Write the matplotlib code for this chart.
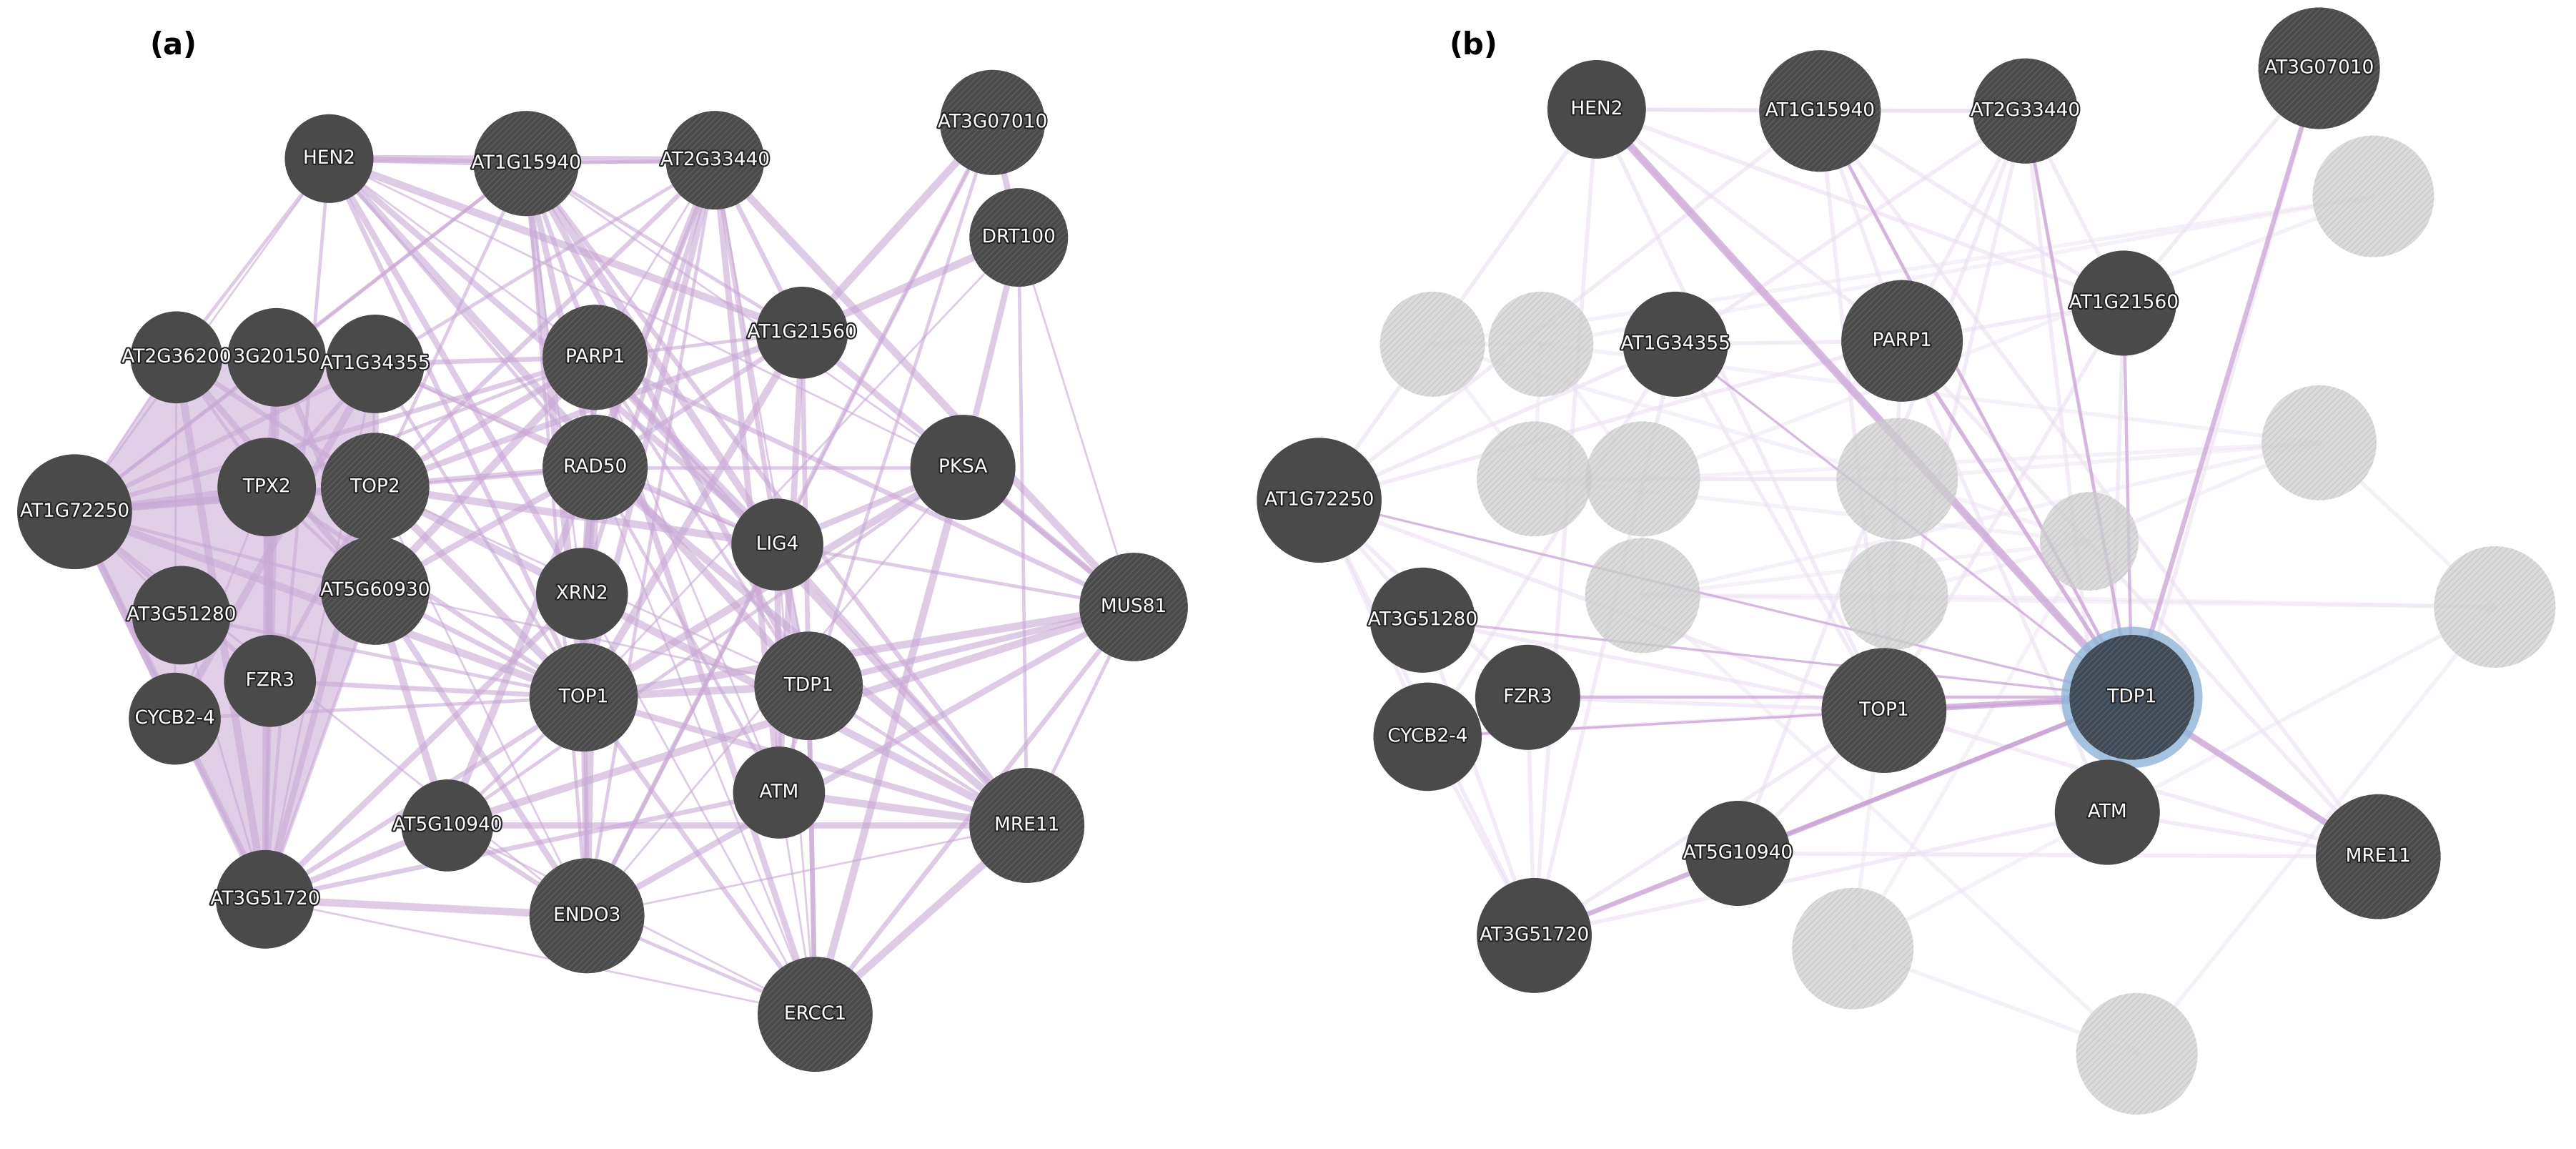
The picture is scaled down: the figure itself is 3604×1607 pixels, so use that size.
import matplotlib
matplotlib.use("Agg")
import matplotlib.pyplot as plt
from matplotlib.patches import Circle, Polygon
import matplotlib.patheffects as pe

# node name: (x, y, radius) in reference pixel coords (1568 x 700 grid)
nodes_a = {
    "HEN2": (200, 97, 27), "AT1G15940": (320, 100, 32), "AT2G33440": (435, 98, 30),
    "AT3G07010": (604, 75, 32), "DRT100": (620, 145, 30), "AT1G21560": (488, 203, 28),
    "PARP1": (362, 218, 32), "AT2G36200": (107, 218, 28), "AT3G20150": (168, 218, 30),
    "AT1G34355": (228, 222, 30), "TPX2": (162, 297, 30), "TOP2": (228, 297, 33),
    "RAD50": (362, 285, 32), "PKSA": (586, 285, 32), "AT1G72250": (45, 312, 35),
    "LIG4": (473, 332, 28), "XRN2": (354, 362, 28), "AT3G51280": (110, 375, 30),
    "AT5G60930": (228, 360, 33), "MUS81": (690, 370, 33), "FZR3": (164, 415, 28),
    "TOP1": (355, 425, 33), "TDP1": (492, 418, 33), "CYCB2-4": (106, 438, 28),
    "ATM": (474, 483, 28), "AT5G10940": (272, 503, 28), "MRE11": (625, 503, 35),
    "AT3G51720": (161, 548, 30), "ENDO3": (357, 558, 35), "ERCC1": (496, 618, 35),
}
labels_a = {"AT3G20150": "3G20150", "AT2G36200": "AT2G36200"}
hatched_a = ["TOP2", "AT5G60930", "TOP1", "TDP1", "ENDO3", "ERCC1", "MRE11", "MUS81",
             "RAD50", "PARP1", "DRT100", "AT3G07010", "AT1G15940", "AT2G33440"]
# dense lavender region on the left of (a)
cluster_a = ["AT1G72250", "AT2G36200", "AT1G34355", "TOP2", "AT5G60930", "AT3G51720", "CYCB2-4"]

nodes_b = {
    "HEN2": (972, 67, 30), "AT1G15940": (1108, 68, 37), "AT2G33440": (1233, 68, 32),
    "AT3G07010": (1412, 42, 37), "AT1G21560": (1293, 185, 32), "PARP1": (1158, 208, 37),
    "AT1G34355": (1020, 210, 32), "AT1G72250": (803, 305, 38), "AT3G51280": (866, 378, 32),
    "FZR3": (930, 425, 32), "TOP1": (1147, 433, 38), "TDP1": (1298, 425, 38),
    "CYCB2-4": (869, 449, 33), "ATM": (1283, 495, 32), "AT5G10940": (1058, 520, 32),
    "MRE11": (1448, 522, 38), "AT3G51720": (934, 570, 35),
}
faded_b = {
    "f1": (1445, 120, 37), "f2": (872, 210, 32), "f3": (938, 210, 32), "f4": (934, 292, 35),
    "f5": (1000, 292, 35), "f6": (1155, 292, 37), "f7": (1412, 270, 35), "f8": (1272, 330, 30),
    "f9": (1000, 363, 35), "f10": (1153, 363, 33), "f11": (1519, 370, 37),
    "f12": (1128, 578, 37), "f13": (1301, 642, 37),
}
hatched_b = ["TOP1", "TDP1", "MRE11", "PARP1", "AT1G15940", "AT2G33440", "AT3G07010"]

edges_a = """AT1G72250 AT2G36200;AT1G72250 AT3G20150;AT1G72250 AT1G34355;AT1G72250 TPX2;AT1G72250 TOP2;
AT1G72250 AT3G51280;AT1G72250 AT5G60930;AT1G72250 FZR3;AT1G72250 CYCB2-4;AT1G72250 AT3G51720;
AT1G72250 HEN2;AT1G72250 AT1G15940;AT1G72250 PARP1;AT1G72250 RAD50;AT1G72250 TOP1;AT1G72250 ENDO3;
AT2G36200 TPX2;AT2G36200 TOP2;AT2G36200 AT5G60930;AT2G36200 AT3G51720;AT2G36200 CYCB2-4;AT2G36200 HEN2;
AT3G20150 TPX2;AT3G20150 AT5G60930;AT3G20150 FZR3;AT3G20150 AT3G51720;AT3G20150 AT1G15940;
AT1G34355 TPX2;AT1G34355 TOP2;AT1G34355 CYCB2-4;AT1G34355 AT3G51720;AT1G34355 AT2G33440;AT1G34355 PARP1;
TPX2 AT3G51720;TPX2 FZR3;TPX2 CYCB2-4;TPX2 AT5G60930;TOP2 FZR3;TOP2 AT3G51720;TOP2 TOP1;TOP2 RAD50;
TOP2 AT1G15940;TOP2 AT2G33440;TOP2 AT1G21560;TOP2 LIG4;TOP2 TDP1;AT5G60930 AT3G51720;AT5G60930 TOP1;
AT5G60930 ENDO3;AT5G60930 AT5G10940;AT3G51280 AT3G51720;CYCB2-4 AT3G51720;FZR3 AT3G51720;
AT3G51720 AT5G10940;AT3G51720 ENDO3;AT3G51720 ERCC1;AT3G51720 HEN2;AT3G51720 TOP1;
HEN2 AT1G15940;HEN2 AT2G33440;HEN2 PARP1;HEN2 RAD50;HEN2 TOP1;HEN2 LIG4;HEN2 AT1G21560;HEN2 PKSA;
AT1G15940 AT2G33440;AT1G15940 PARP1;AT1G15940 RAD50;AT1G15940 TOP1;AT1G15940 XRN2;AT1G15940 AT1G21560;
AT1G15940 MRE11;AT1G15940 TDP1;AT1G15940 LIG4;AT2G33440 PARP1;AT2G33440 RAD50;AT2G33440 AT1G21560;
AT2G33440 TOP1;AT2G33440 MUS81;AT2G33440 TDP1;AT2G33440 ENDO3;AT2G33440 LIG4;AT3G07010 DRT100;
AT3G07010 AT1G21560;AT3G07010 LIG4;AT3G07010 ATM;AT3G07010 ENDO3;DRT100 PKSA;DRT100 AT1G21560;
DRT100 TOP1;AT1G21560 PARP1;AT1G21560 RAD50;AT1G21560 MUS81;AT1G21560 TOP1;PARP1 RAD50;PARP1 XRN2;
PARP1 TOP1;PARP1 LIG4;PARP1 MRE11;PARP1 ATM;PARP1 TDP1;PARP1 MUS81;PARP1 ERCC1;RAD50 MRE11;RAD50 LIG4;
RAD50 ATM;RAD50 TOP1;RAD50 XRN2;RAD50 ENDO3;RAD50 ERCC1;RAD50 PKSA;PKSA MUS81;PKSA LIG4;PKSA TOP1;
PKSA ENDO3;PKSA AT5G10940;LIG4 MRE11;LIG4 ATM;LIG4 TDP1;LIG4 ERCC1;LIG4 MUS81;XRN2 TOP1;XRN2 ENDO3;
TOP1 TDP1;TOP1 ENDO3;TOP1 AT5G10940;TOP1 ERCC1;TOP1 MRE11;TOP1 MUS81;TDP1 ATM;TDP1 MRE11;TDP1 ERCC1;
TDP1 MUS81;ATM MRE11;ATM ERCC1;MUS81 MRE11;MUS81 ERCC1;MUS81 ENDO3;MRE11 ERCC1;MRE11 ENDO3;
ENDO3 ERCC1;AT5G10940 ENDO3;AT5G10940 MRE11;AT5G10940 MUS81;AT5G10940 ERCC1;AT3G51280 TOP1;FZR3 TOP1;
HEN2 XRN2;HEN2 TDP1;AT1G15940 PKSA;AT1G15940 ENDO3;AT2G33440 XRN2;AT2G33440 ATM;AT2G33440 AT5G10940;
AT1G34355 RAD50;AT1G34355 TOP1;AT1G34355 LIG4;TOP2 PARP1;TOP2 XRN2;TOP2 ENDO3;TPX2 PARP1;TPX2 TOP1;
AT5G60930 RAD50;AT5G60930 PARP1;AT5G60930 TDP1;CYCB2-4 TOP1;AT3G51720 ATM;AT3G51720 XRN2;PKSA ERCC1;
DRT100 MUS81;DRT100 MRE11;AT1G21560 ERCC1;AT1G21560 ATM;XRN2 MRE11;XRN2 ERCC1;LIG4 ENDO3"""

# TDP1 neighbours in (b): (other node, line width)
tdp1_links = [("AT3G07010", 3), ("PARP1", 2.5), ("HEN2", 5), ("AT1G15940", 2), ("AT2G33440", 2),
              ("AT1G21560", 2), ("TOP1", 4), ("MRE11", 4), ("ATM", 3), ("AT5G10940", 2.5),
              ("AT3G51720", 3), ("AT1G72250", 1.5), ("AT1G34355", 1.5), ("FZR3", 2), ("CYCB2-4", 1.5),
              ("AT3G51280", 1.5)]


def parse(s):
    return [tuple(p.split()) for p in s.replace("\n", "").split(";") if p.strip()]


def draw_node(ax, x, y, r, label, hatched, face="#4a4a4a", hcol="#5e5e5e", alpha=1.0):
    ax.add_patch(Circle((x, y), r, facecolor=face, edgecolor="none", alpha=alpha, zorder=3))
    if hatched:
        ax.add_patch(Circle((x, y), r, facecolor="none", edgecolor=hcol, hatch="////",
                            linewidth=0, alpha=alpha, zorder=4))
    if label:
        ax.text(x, y, label, color="white", fontsize=19, ha="center", va="center", zorder=5,
                path_effects=[pe.withStroke(linewidth=3, foreground="#222222")])


fig = plt.figure(figsize=(36.04, 16.08), dpi=100)
ax = fig.add_axes([0, 0, 1, 1])
ax.set_xlim(0, 1568)
ax.set_ylim(700, 0)
ax.set_aspect("equal")
ax.axis("off")

edge_col = "#c9a9d6"
# panel (a)
ax.add_patch(Polygon([nodes_a[n][:2] for n in cluster_a], closed=True, facecolor="#d9c3e2",
                     edgecolor="none", alpha=0.8, zorder=0.5))
for i, (u, v) in enumerate(parse(edges_a)):
    x1, y1, _ = nodes_a[u]
    x2, y2, _ = nodes_a[v]
    ax.plot([x1, x2], [y1, y2], color=edge_col, lw=2 + (i % 5) * 1.4, alpha=0.6,
            solid_capstyle="round", zorder=1)
for name, (x, y, r) in nodes_a.items():
    draw_node(ax, x, y, r, labels_a.get(name, name), name in hatched_a)

# panel (b): faint background edges reuse the (a) topology where nodes exist
for u, v in parse(edges_a):
    if u in nodes_b and v in nodes_b:
        x1, y1, _ = nodes_b[u]
        x2, y2, _ = nodes_b[v]
        ax.plot([x1, x2], [y1, y2], color="#e6d6ee", lw=4, alpha=0.45, zorder=1)
fk = list(faded_b)
for i, k in enumerate(fk):
    for j in (i + 1, i + 2, i + 4):
        if j < len(fk):
            x1, y1, _ = faded_b[k]
            x2, y2, _ = faded_b[fk[j]]
            ax.plot([x1, x2], [y1, y2], color="#eee4f3", lw=4, alpha=0.5, zorder=1)
tx, ty, tr = nodes_b["TDP1"]
for other, w in tdp1_links:
    x, y, _ = nodes_b[other]
    ax.plot([tx, x], [ty, y], color="#c9a3d6", lw=w * 1.6, alpha=0.75, zorder=2)
for k, (x, y, r) in faded_b.items():
    draw_node(ax, x, y, r, None, True, face="#d0d0d0", hcol="#c4c4c4", alpha=0.75)
ax.add_patch(Circle((tx, ty), tr + 5, facecolor="#8fb4d6", edgecolor="none", alpha=0.8, zorder=2.9))
for name, (x, y, r) in nodes_b.items():
    draw_node(ax, x, y, r, name, name in hatched_b,
              face="#3c4a5a" if name == "TDP1" else "#4a4a4a")

ax.text(105, 28, "(a)", fontsize=30, fontweight="bold", ha="center", va="center")
ax.text(897, 28, "(b)", fontsize=30, fontweight="bold", ha="center", va="center")

fig.savefig("out.png", dpi=100)
